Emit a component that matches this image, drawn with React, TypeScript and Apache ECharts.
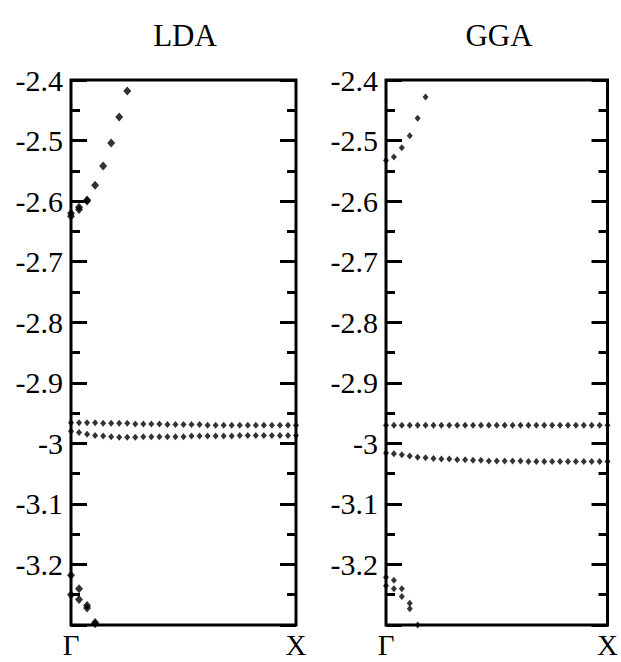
import React, { useEffect, useRef } from "react";
import * as echarts from "echarts";

// k-point index 0 (Γ) .. 28 (X)
const kLabels: Record<number, string> = { 0: "Γ", 28: "X" };
const kMax = 28;
const panelTitles = ["LDA", "GGA"];
const yMin = -3.3;
const yMax = -2.4;

// LDA bands
const ldaSteepA = [-2.62, -2.61, -2.598, -2.574, -2.542, -2.504, -2.461, -2.418];
const ldaSteepB = [-2.625, -2.614, -2.6];
const ldaFlatUpper = [
  -2.966, -2.966, -2.966, -2.966, -2.967, -2.967, -2.967, -2.967, -2.968, -2.968,
  -2.968, -2.968, -2.969, -2.969, -2.969, -2.969, -2.969, -2.97, -2.97, -2.97,
  -2.97, -2.97, -2.97, -2.97, -2.97, -2.97, -2.97, -2.97, -2.97,
];
const ldaFlatLower = [
  -2.98, -2.982, -2.985, -2.987, -2.988, -2.989, -2.99, -2.99, -2.99, -2.989,
  -2.989, -2.989, -2.989, -2.989, -2.989, -2.988, -2.988, -2.988, -2.988, -2.988,
  -2.988, -2.987, -2.987, -2.987, -2.987, -2.987, -2.987, -2.987, -2.987,
];
const ldaLowA = [-3.218, -3.24, -3.268, -3.296];
const ldaLowB = [-3.25, -3.258, -3.272, -3.298];

// GGA bands
const ggaSteepA = [-2.533, -2.527, -2.512, -2.492, -2.463, -2.428];
const ggaFlatUpper = [
  -2.97, -2.97, -2.97, -2.97, -2.97, -2.97, -2.97, -2.97, -2.97, -2.97,
  -2.97, -2.97, -2.97, -2.97, -2.97, -2.97, -2.97, -2.97, -2.97, -2.97,
  -2.97, -2.97, -2.97, -2.97, -2.97, -2.97, -2.97, -2.97, -2.97,
];
const ggaFlatLower = [
  -3.016, -3.017, -3.019, -3.021, -3.023, -3.024, -3.025, -3.026, -3.026, -3.027,
  -3.027, -3.028, -3.028, -3.029, -3.029, -3.029, -3.029, -3.029, -3.03, -3.03,
  -3.03, -3.03, -3.03, -3.03, -3.03, -3.03, -3.03, -3.03, -3.03,
];
const ggaLowA = [-3.221, -3.226, -3.24, -3.264, -3.3];
const ggaLowB = [-3.235, -3.24, -3.253, -3.273];

// [values, symbol size]
const panels: [number[], number][][] = [
  [
    [ldaSteepA, 8],
    [ldaSteepB, 8],
    [ldaFlatUpper, 6],
    [ldaFlatLower, 6],
    [ldaLowA, 8],
    [ldaLowB, 8],
  ],
  [
    [ggaSteepA, 6],
    [ggaFlatUpper, 6],
    [ggaFlatLower, 6],
    [ggaLowA, 6],
    [ggaLowB, 6],
  ],
];

const FONT = "Liberation Serif";

export default function App() {
  const ref = useRef<HTMLDivElement>(null);
  useEffect(() => {
    if (!ref.current) return;
    const chart = echarts.init(ref.current, undefined, { renderer: "svg" });
    const grids = [
      { left: 71, right: 325, top: 80, bottom: 37 },
      { left: 386, right: 10, top: 80, bottom: 37 },
    ].map((g) => ({ ...g, show: true, borderColor: "#000", borderWidth: 3, backgroundColor: "transparent" }));

    const xAxes = grids.map((_, i) => ({
      type: "value",
      gridIndex: i,
      min: 0,
      max: kMax,
      interval: kMax,
      axisLine: { show: false },
      axisTick: { show: false },
      splitLine: { show: false },
      axisLabel: {
        color: "#000",
        fontFamily: FONT,
        fontSize: 29,
        lineHeight: 29,
        margin: 5,
        formatter: (v: number) => kLabels[Math.round(v)] ?? "",
      },
    }));

    const yAxisBase = (i: number, pos: "left" | "right") => ({
      type: "value",
      gridIndex: i,
      position: pos,
      min: yMin,
      max: yMax,
      interval: 0.1,
      axisLine: { show: false },
      splitLine: { show: false },
      axisTick: { show: true, inside: true, length: 16, lineStyle: { color: "#000", width: 3 } },
      minorTick: { show: true, splitNumber: 2, length: 9, lineStyle: { color: "#000", width: 3 } },
      minorSplitLine: { show: false },
      axisLabel: {
        show: pos === "left",
        color: "#000",
        fontFamily: FONT,
        fontSize: 30,
        margin: 8,
        formatter: (v: number) => (v < -3.25 ? "" : String(parseFloat(v.toFixed(2)))),
      },
    });
    const yAxes: any[] = [];
    grids.forEach((_, i) => {
      yAxes.push(yAxisBase(i, "left"));
      yAxes.push(yAxisBase(i, "right"));
    });

    const series: any[] = [];
    panels.forEach((bands, p) => {
      bands.forEach(([vals, size]) => {
        series.push({
          type: "scatter",
          xAxisIndex: p,
          yAxisIndex: p * 2,
          symbol: "diamond",
          symbolSize: [size, size + 1],
          itemStyle: { color: "#000" },
          clip: true,
          data: vals.map((v, k) => [k, v]),
        });
      });
    });

    chart.setOption({
      animation: false,
      backgroundColor: "#fff",
      grid: grids,
      xAxis: xAxes,
      yAxis: yAxes,
      series,
      graphic: panelTitles.map((t, i) => ({
        type: "text",
        x: i === 0 ? 185 : 499,
        y: 35,
        style: {
          text: t,
          align: "center",
          verticalAlign: "middle",
          fontSize: 31,
          fontFamily: FONT,
          fill: "#000",
        },
      })),
    });
    return () => chart.dispose();
  }, []);
  return (
    <div
      ref={ref}
      style={{ position: "fixed", left: 0, top: 0, width: 621, height: 662, background: "#fff" }}
    />
  );
}
